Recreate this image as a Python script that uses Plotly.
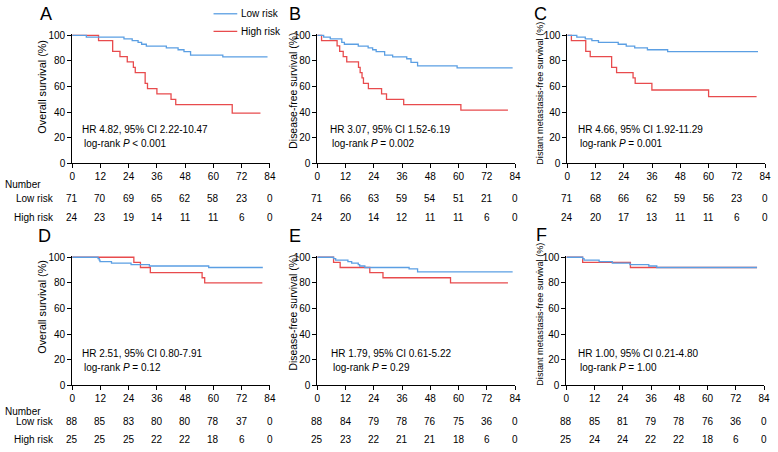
import plotly.graph_objects as go

W, H = 778, 452
FONT = "Liberation Sans, Arial, sans-serif"
BLUE = "#5b9fe3"
RED = "#e84b4d"

month_ticks = [0, 12, 24, 36, 48, 60, 72, 84]
surv_ticks = [0, 20, 40, 60, 80, 100]

# ---- Panel A: overall survival (training) ----
A_low_t = [0, 6, 22, 25.5, 28, 29.5, 31.5, 40, 45, 47.5, 50.3, 64, 83]
A_low_s = [100, 98.6, 97.2, 95.8, 94.4, 93.0, 91.5, 90.1, 88.7, 87.3, 84.5, 83.1, 83.1]
A_high_t = [0, 11.2, 17.2, 20.3, 23.4, 26, 26.8, 31, 32, 36, 42, 44, 68, 80]
A_high_s = [100, 95.8, 87.5, 83.3, 79.2, 75.0, 70.8, 62.5, 58.3, 54.2, 50.0, 45.8, 39.3, 39.3]
A_low_n = [71, 70, 69, 65, 62, 58, 23, 0]
A_high_n = [24, 23, 19, 14, 11, 11, 6, 0]

# ---- Panel B: disease-free survival ----
B_low_t = [0, 2.7, 5.5, 10.4, 11.5, 17.4, 21.6, 23.5, 25, 28.6, 32, 38, 39.8, 42.6, 59.4, 83]
B_low_s = [100, 98.6, 97.2, 94.4, 93.0, 91.5, 90.1, 88.7, 87.3, 84.5, 83.1, 81.7, 78.9, 76.1, 74.6, 74.6]
B_high_t = [0, 1.8, 8.4, 9.5, 11, 12.5, 17.5, 18.2, 19, 19.6, 21.7, 27.3, 29.4, 36.7, 61, 81]
B_high_s = [100, 95.8, 91.7, 87.5, 83.3, 79.2, 75.0, 70.8, 66.7, 62.5, 58.3, 54.2, 50.0, 45.8, 41.6, 41.6]
B_low_n = [71, 66, 63, 59, 54, 51, 21, 0]
B_high_n = [24, 20, 14, 12, 11, 11, 6, 0]

# ---- Panel C: distant metastasis-free survival ----
C_low_t = [0, 4, 7.6, 10.4, 13.2, 21.6, 25, 28.6, 34, 42.6, 81]
C_low_s = [100, 98.6, 97.2, 95.8, 94.4, 93.0, 91.5, 90.1, 88.7, 87.3, 87.3]
C_high_t = [0, 1.7, 7.8, 9.7, 18.8, 20.9, 27.9, 28.8, 35.9, 60, 80.4]
C_high_s = [100, 95.8, 87.5, 83.3, 75.0, 70.8, 66.7, 62.5, 57.3, 52.1, 52.1]
C_low_n = [71, 68, 66, 62, 59, 56, 23, 0]
C_high_n = [24, 20, 17, 13, 11, 11, 6, 0]

# ---- Panel D ----
D_low_t = [0, 11, 11.5, 11.8, 16.7, 25, 32.8, 58, 81]
D_low_s = [100, 98.9, 97.7, 96.6, 95.5, 94.3, 93.2, 92.0, 92.0]
D_high_t = [0, 26.2, 29, 33.2, 55.2, 56.3, 80.8]
D_high_s = [100, 96, 92, 88, 84, 80, 80]
D_low_n = [88, 85, 83, 80, 80, 78, 37, 0]
D_high_n = [25, 25, 25, 22, 22, 18, 6, 0]

# ---- Panel E ----
E_low_t = [0, 6.9, 7.8, 13, 14.6, 17.4, 18, 20.2, 39, 42.6, 83]
E_low_s = [100, 98.9, 97.7, 96.6, 95.5, 94.3, 93.2, 92.0, 90.9, 88.6, 88.6]
E_high_t = [0, 6.9, 9.7, 22.3, 27.9, 56.6, 81]
E_high_s = [100, 96, 92, 88, 84, 80, 80]
E_low_n = [88, 84, 79, 78, 76, 75, 36, 0]
E_high_n = [25, 23, 22, 21, 21, 18, 6, 0]

# ---- Panel F ----
F_low_t = [0, 6.9, 7.5, 13.9, 19.5, 27, 35, 38.4, 81]
F_low_s = [100, 98.9, 97.7, 96.6, 95.5, 94.3, 93.2, 92.0, 92.0]
F_high_t = [0, 6.9, 27.2, 81]
F_high_s = [100, 96, 92, 92]
F_low_n = [88, 85, 81, 79, 78, 76, 36, 0]
F_high_n = [25, 24, 24, 22, 22, 18, 6, 0]

letters = ["A", "B", "C", "D", "E", "F"]
y_titles = ["Overall survival (%)", "Disease-free survival (%)", "Distant metastasis-free survival (%)",
            "Overall survival (%)", "Disease-free survival (%)", "Distant metastasis-free survival (%)"]
hr_texts = ["HR 4.82, 95% CI 2.22-10.47", "HR 3.07, 95% CI 1.52-6.19", "HR 4.66, 95% CI 1.92-11.29",
            "HR 2.51, 95% CI 0.80-7.91", "HR 1.79, 95% CI 0.61-5.22", "HR 1.00, 95% CI 0.21-4.80"]
p_texts = ["log-rank <i>P</i> &lt; 0.001", "log-rank <i>P</i> = 0.002", "log-rank <i>P</i> = 0.001",
           "log-rank <i>P</i> = 0.12", "log-rank <i>P</i> = 0.29", "log-rank <i>P</i> = 1.00"]
row_labels = ["Number", "Low risk", "High risk"]
legend_labels = ["Low risk", "High risk"]

curves = [
    (A_low_t, A_low_s, A_high_t, A_high_s, A_low_n, A_high_n),
    (B_low_t, B_low_s, B_high_t, B_high_s, B_low_n, B_high_n),
    (C_low_t, C_low_s, C_high_t, C_high_s, C_low_n, C_high_n),
    (D_low_t, D_low_s, D_high_t, D_high_s, D_low_n, D_high_n),
    (E_low_t, E_low_s, E_high_t, E_high_s, E_low_n, E_high_n),
    (F_low_t, F_low_s, F_high_t, F_high_s, F_low_n, F_high_n),
]

# layout geometry (window pixels)
geo = [
    dict(x0=70, y0=163, ytx=40, yty=85, yts=10.8, lx=35, ly=10, hrx=78, hry=128, prow=(185, 199, 218)),
    dict(x0=318, y0=163, ytx=293, yty=89, yts=10.4, lx=287, ly=10, hrx=329, hry=128, prow=(185, 199, 218)),
    dict(x0=571, y0=163, ytx=543, yty=91, yts=9.1, lx=535, ly=10, hrx=580, hry=128, prow=(185, 199, 218)),
    dict(x0=70, y0=390, ytx=40, yty=310, yts=10.8, lx=33, ly=237, hrx=78, hry=357, prow=(417, 427, 445)),
    dict(x0=318, y0=390, ytx=293, yty=316, yts=10.4, lx=287, ly=237, hrx=330, hry=357, prow=(417, 427, 445)),
    dict(x0=570, y0=390, ytx=543, yty=317, yts=9.1, lx=537, ly=236, hrx=580, hry=357, prow=(417, 427, 445)),
]
XW = 200.0   # px for 84 months
YH = 131.0   # px for 100 %
YTOP = 101.0

def fx(p):
    return p / W

def fy(p):
    return 1 - p / H

fig = go.Figure()
annotations = []
shapes = []
tf = dict(family=FONT, size=10, color="black")

for i, g in enumerate(geo):
    k = i + 1
    xa = "x" if k == 1 else f"x{k}"
    ya = "y" if k == 1 else f"y{k}"
    lt, ls, ht, hs, ln, hn = curves[i]
    fig.add_trace(go.Scatter(x=ht, y=hs, mode="lines", line=dict(color=RED, width=1.3, shape="hv"),
                             xaxis=xa, yaxis=ya, showlegend=False, hoverinfo="skip"))
    fig.add_trace(go.Scatter(x=lt, y=ls, mode="lines", line=dict(color=BLUE, width=1.3, shape="hv"),
                             xaxis=xa, yaxis=ya, showlegend=False, hoverinfo="skip"))
    top_px = g["y0"] - YH * YTOP / 100.0
    axcommon = dict(showline=True, linecolor="black", linewidth=1, ticks="outside", ticklen=4,
                    tickcolor="black", tickwidth=1, showgrid=False, zeroline=False, tickfont=tf,
                    fixedrange=True)
    fig.layout[f"xaxis{k if k > 1 else ''}"] = dict(
        domain=[fx(g["x0"]), fx(g["x0"] + XW)], range=[0, 84], tickvals=month_ticks,
        anchor=ya, **axcommon)
    fig.layout[f"yaxis{k if k > 1 else ''}"] = dict(
        domain=[fy(g["y0"]), fy(top_px)], range=[0, YTOP], tickvals=surv_ticks,
        anchor=xa, **axcommon)
    # panel letter
    annotations.append(dict(x=fx(g["lx"]), y=fy(g["ly"]), xref="paper", yref="paper", text=letters[i],
                            showarrow=False, xanchor="left", yanchor="middle",
                            font=dict(family=FONT, size=18, color="black")))
    # y title
    annotations.append(dict(x=fx(g["ytx"]), y=fy(g["yty"]), xref="paper", yref="paper", text=y_titles[i],
                            showarrow=False, textangle=-90, xanchor="center", yanchor="middle",
                            font=dict(family=FONT, size=g["yts"], color="black")))
    # HR text
    annotations.append(dict(x=fx(g["hrx"]), y=fy(g["hry"]), xref="paper", yref="paper", text=hr_texts[i],
                            showarrow=False, xanchor="left", yanchor="middle", font=tf))
    annotations.append(dict(x=fx(g["hrx"] + 2), y=fy(g["hry"] + 15), xref="paper", yref="paper",
                            text=p_texts[i], showarrow=False, xanchor="left", yanchor="middle", font=tf))
    # risk table
    for m, a, b in zip(month_ticks, ln, hn):
        annotations.append(dict(x=m, y=fy(g["prow"][1]), xref=xa, yref="paper", text=str(a),
                                showarrow=False, xanchor="center", yanchor="middle", font=tf))
        annotations.append(dict(x=m, y=fy(g["prow"][2]), xref=xa, yref="paper", text=str(b),
                                showarrow=False, xanchor="center", yanchor="middle", font=tf))
    if i in (0, 3):
        annotations.append(dict(x=0, y=fy(g["prow"][0]), xref="paper", yref="paper", text=row_labels[0],
                                showarrow=False, xanchor="left", yanchor="middle", font=tf))
        for r in (1, 2):
            annotations.append(dict(x=fx(54), y=fy(g["prow"][r]), xref="paper", yref="paper",
                                    text=row_labels[r], showarrow=False, xanchor="right",
                                    yanchor="middle", font=tf))

# legend (manual)
for j, (col, yy) in enumerate([(BLUE, 10), (RED, 28)]):
    shapes.append(dict(type="line", xref="paper", yref="paper", x0=fx(213), x1=fx(237),
                       y0=fy(yy), y1=fy(yy), line=dict(color=col, width=1.3)))
    annotations.append(dict(x=fx(239), y=fy(yy), xref="paper", yref="paper", text=legend_labels[j],
                            showarrow=False, xanchor="left", yanchor="middle", font=tf))

fig.update_layout(width=W, height=H, margin=dict(l=0, r=0, t=0, b=0), plot_bgcolor="white",
                  paper_bgcolor="white", annotations=annotations, shapes=shapes,
                  font=dict(family=FONT, size=10, color="black"))
fig.write_html("out.html", config={"displayModeBar": False, "staticPlot": True},
               post_script="document.body.style.margin='0';document.body.style.overflow='hidden';")
